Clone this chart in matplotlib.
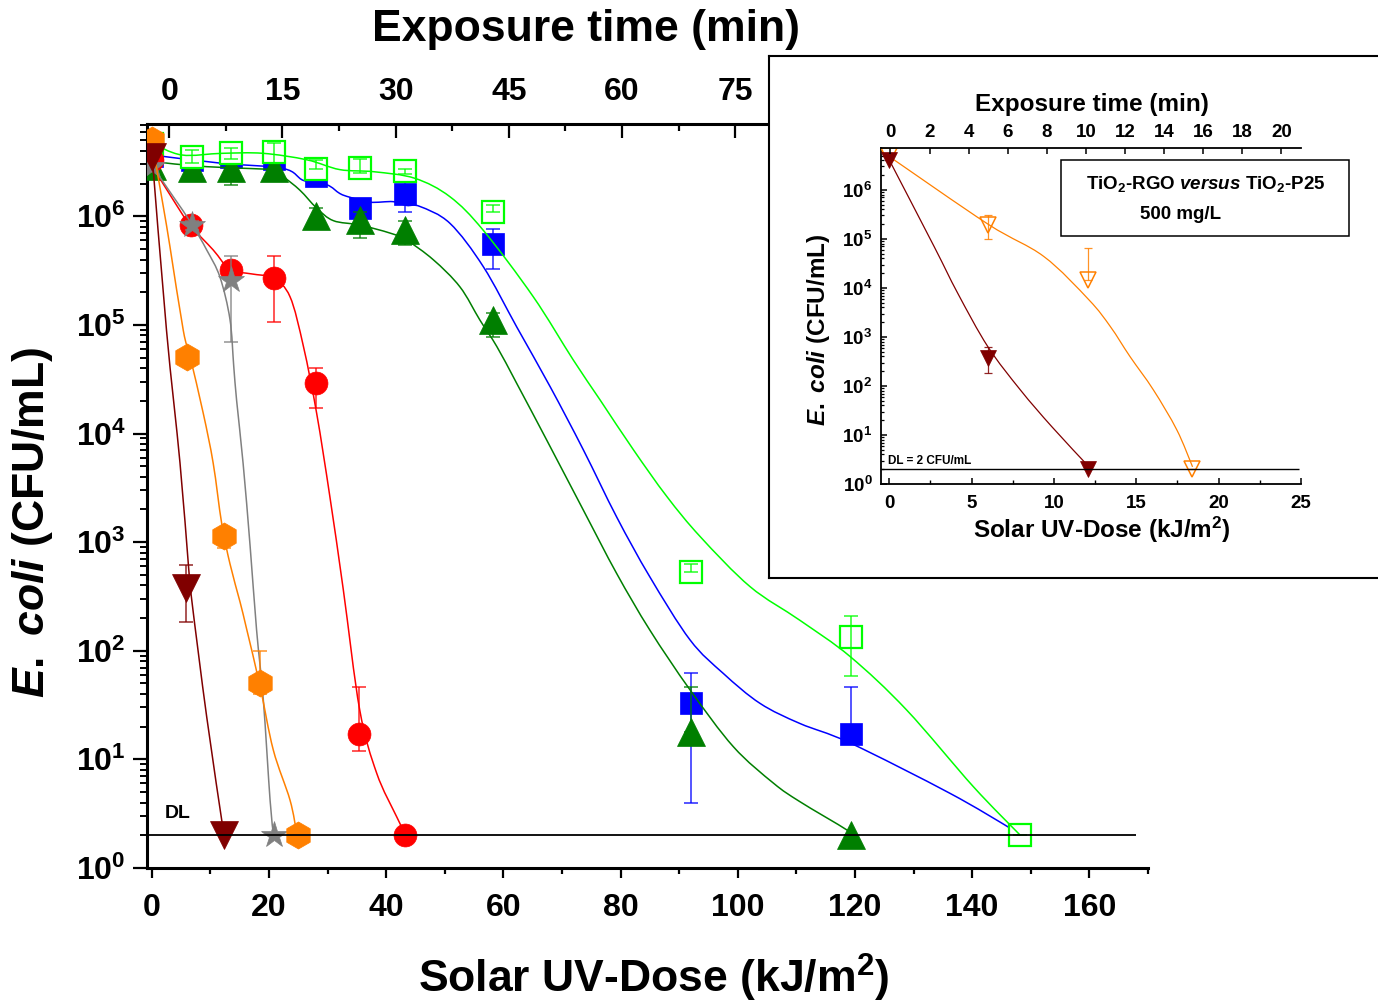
import numpy as np
import matplotlib
matplotlib.use("Agg")
import matplotlib.pyplot as plt
from matplotlib.ticker import MultipleLocator, LogLocator, NullFormatter, FixedLocator
from matplotlib.patches import Rectangle, PathPatch
from matplotlib.path import Path

plt.rcParams.update({
    "font.family": ["Liberation Sans", "DejaVu Sans"],
    "font.weight": "bold",
    "mathtext.fontset": "custom",
    "mathtext.rm": "Liberation Sans:bold",
    "mathtext.bf": "Liberation Sans:bold",
    "mathtext.sf": "Liberation Sans:bold",
    "mathtext.it": "Liberation Sans:italic:bold",
    "axes.linewidth": 2.2,
})

# ---------------- main panel data (dose kJ/m2, CFU/mL) ----------------
DL = 2
dose_maroon = [0, 5.9, 12.3]
cfu_maroon = [3.5e6, 380, 2]
lo_maroon = [3.5e6, 184, 2]
hi_maroon = [3.5e6, 620, 2]
curve_x_maroon = [0, 2.53, 4.83, 6.25, 6.83, 9.39, 12.2]
curve_log_maroon = [6.61, 4.95, 3.73, 2.80, 2.47, 1.39, 0.35]

dose_orange = [0, 6.0, 12.3, 18.5, 25.0]
cfu_orange = [5.0e6, 5.1e4, 1150, 50, 2]
lo_orange = [5.0e6, 5.1e4, 890, 40, 2]
hi_orange = [5.0e6, 5.1e4, 1150, 100, 2]
curve_x_orange = [0, 1.98, 3.12, 5.39, 6.54, 8.8, 10.5, 11.95, 13.36, 15.07, 16.2, 18.5, 20.75, 23.6, 24.75]
curve_log_orange = [6.70, 6.09, 5.72, 4.95, 4.71, 4.186, 3.725, 3.17, 2.80, 2.45, 2.2, 1.67, 1.086, 0.625, 0.319]

dose_gray = [0, 6.8, 13.6, 20.8]
cfu_gray = [2.9e6, 8.3e5, 2.6e5, 2]
lo_gray = [2.9e6, 7.5e5, 7.0e4, 2]
hi_gray = [2.9e6, 9.0e5, 4.3e5, 2]
curve_x_gray = [0, 3.69, 6.83, 9.39, 11.65, 13.36, 14.0, 14.5, 15.6, 16.8, 17.9, 19.05, 20.2, 20.75]
curve_log_gray = [6.47, 6.18, 5.93, 5.69, 5.44, 5.05, 4.62, 4.30, 3.725, 2.96, 2.19, 1.546, 0.625, 0.319]

dose_red = [0, 6.7, 13.6, 20.8, 28.0, 35.4, 43.2]
cfu_red = [3.3e6, 8.3e5, 3.2e5, 2.7e5, 2.9e4, 17, 2]
lo_red = [3.3e6, 7.5e5, 2.8e5, 1.07e5, 1.7e4, 12, 2]
hi_red = [3.3e6, 9.0e5, 3.6e5, 4.3e5, 4.0e4, 46, 2]
curve_x_red = [0, 3.69, 6.54, 10.5, 13.36, 17.0, 20.75, 23.6, 25.9, 28.15, 30.4, 32.7, 35.5, 38.4, 41.8, 43.2]
curve_log_red = [6.47, 6.15, 5.92, 5.69, 5.51, 5.47, 5.43, 5.26, 4.80, 4.186, 3.42, 2.56, 1.454, 0.871, 0.471, 0.319]

dose_dkgreen = [0, 6.8, 13.6, 20.8, 28.0, 35.5, 43.2, 58.3, 92.0, 119.3]
cfu_dkgreen = [2.9e6, 2.8e6, 2.8e6, 2.8e6, 1.0e6, 9.2e5, 7.5e5, 1.1e5, 18, 2]
lo_dkgreen = [2.9e6, 2.1e6, 1.95e6, 2.16e6, 7.6e5, 6.3e5, 5.4e5, 7.8e4, 18, 2]
hi_dkgreen = [2.9e6, 3.3e6, 3.3e6, 3.3e6, 1.2e6, 1.1e6, 9.0e5, 1.3e5, 46, 2]
curve_x_dkgreen = [0, 2.56, 9.39, 16.8, 20.75, 22.45, 25.3, 28.15, 31.0, 35.5, 40.7, 43.5, 48.05, 52.6,
                   56.0, 58.9, 62.3, 67.4, 73.65, 79.35, 85.0, 91.85, 99.25, 106.1, 110.6, 118.6, 119.3]
curve_log_dkgreen = [6.52, 6.49, 6.457, 6.44, 6.425, 6.365, 6.24, 6.076, 5.96, 5.92, 5.845, 5.78, 5.60, 5.35,
                     5.045, 4.80, 4.46, 3.94, 3.295, 2.71, 2.19, 1.64, 1.116, 0.78, 0.61, 0.35, 0.301]

dose_blue = [0, 6.8, 13.6, 20.8, 28.0, 35.5, 43.2, 58.3, 92.0, 119.3, 148.2]
cfu_blue = [3.6e6, 3.3e6, 3.5e6, 3.4e6, 2.35e6, 1.19e6, 1.6e6, 5.6e5, 33, 17.2, 2]
lo_blue = [3.6e6, 3.3e6, 2.66e6, 2.8e6, 2.35e6, 1.19e6, 1.1e6, 3.3e5, 4.0, 17.2, 2]
hi_blue = [3.6e6, 3.3e6, 3.9e6, 3.9e6, 2.35e6, 1.19e6, 2.3e6, 7.6e5, 62, 46, 2]
curve_x_blue = [0, 11.65, 22.45, 25.9, 29.9, 32.1, 33.85, 37.25, 41.2, 43.5, 45.8, 50.9, 56.6, 62.3, 68.0,
                73.65, 79.35, 85.0, 91.85, 97.55, 103.8, 110.6, 119.2, 136.2, 146.5, 148.2]
curve_log_blue = [6.565, 6.49, 6.44, 6.33, 6.29, 6.21, 6.175, 6.13, 6.135, 6.10, 6.09, 5.935, 5.535, 4.98, 4.43,
                  3.85, 3.23, 2.68, 2.10, 1.79, 1.515, 1.33, 1.15, 0.687, 0.365, 0.301]

dose_lime = [0, 6.8, 13.6, 20.8, 28.1, 35.5, 43.2, 58.3, 92.0, 119.3, 148.2]
cfu_lime = [4.6e6, 3.5e6, 3.8e6, 3.9e6, 2.7e6, 2.8e6, 2.6e6, 1.1e6, 525, 134, 2]
lo_lime = [4.6e6, 3.1e6, 3.4e6, 3.1e6, 2.7e6, 2.5e6, 2.45e6, 1.1e6, 525, 58, 2]
hi_lime = [4.6e6, 4.1e6, 4.3e6, 4.7e6, 3.3e6, 3.35e6, 2.75e6, 1.27e6, 635, 208, 2]
curve_x_lime = [0, 5.1, 12.0, 19.0, 26.5, 32.1, 38.0, 44.9, 50.9, 56.6, 65.1, 71.9, 76.5, 82.2, 87.9,
                93.6, 102.1, 110.6, 119.2, 128.8, 140.2, 148.2]
curve_log_lime = [6.675, 6.565, 6.58, 6.58, 6.52, 6.43, 6.41, 6.35, 6.18, 5.87, 5.26, 4.68, 4.31, 3.85, 3.42,
                  3.05, 2.59, 2.28, 1.945, 1.455, 0.748, 0.301]

# ---------------- inset data ----------------
in_dose_rgo = [0, 6.0, 12.1]
in_cfu_rgo = [4.1e6, 380, 2]
in_lo_rgo = [4.1e6, 182, 2]
in_hi_rgo = [4.1e6, 617, 2]
in_curve_x_rgo = [0, 2.73, 4.16, 5.99, 7.96, 9.87, 12.13]
in_curve_log_rgo = [6.61, 4.84, 3.89, 2.80, 1.92, 1.17, 0.35]

in_dose_p25 = [0, 6.0, 12.1, 18.4]
in_cfu_p25 = [4.8e6, 1.93e5, 1.45e4, 2]
in_lo_p25 = [4.8e6, 1.0e5, 1.45e4, 2]
in_hi_p25 = [4.8e6, 3.0e5, 6.5e4, 2]
in_curve_x_p25 = [0, 6.0, 9.39, 12.13, 13.43, 14.62, 16.04, 17.47, 18.42]
in_curve_log_p25 = [6.68, 5.30, 4.64, 3.755, 3.21, 2.60, 1.92, 1.10, 0.35]

top_time_ticks = [0, 15, 30, 45, 60, 75]

MAROON, ORANGE, GRAY, RED = "#800000", "#FF8000", "#808080", "#FF0000"
DKGREEN, BLUE, LIME = "#007F00", "#0000FF", "#00FF00"

W, H = 1378, 1005
fig = plt.figure(figsize=(W / 100, H / 100), dpi=100)


def box(l, t, r, b):
    return [l / W, 1 - b / H, (r - l) / W, (b - t) / H]


def fx(px):
    return px / W


def fy(py):
    return 1 - py / H


def smooth_path(cx, cl):
    """Bezier path through the read-off curve knots (in log space)."""
    P = np.column_stack([np.asarray(cx, float), np.asarray(cl, float)])
    n = len(P)
    verts = [P[0]]
    codes = [Path.MOVETO]
    for i in range(n - 1):
        p0 = P[i - 1] if i > 0 else P[i]
        p1, p2 = P[i], P[i + 1]
        p3 = P[i + 2] if i + 2 < n else P[i + 1]
        verts += [p1 + (p2 - p0) / 6.0, p2 - (p3 - p1) / 6.0, p2]
        codes += [Path.CURVE4] * 3
    V = np.array(verts)
    V[:, 1] = 10 ** V[:, 1]
    return Path(V, codes)


def series(a, x, y, lo, hi, cx, cl, color, marker, ms, z, mfc=None, mew=0.5,
           cap=5, lw=1.1, elw=1.1):
    x = np.asarray(x, float)
    y = np.asarray(y, float)
    yerr = [y - np.asarray(lo, float), np.asarray(hi, float) - y]
    a.plot(x, y, ls="none", marker=marker, ms=ms, mfc=mfc if mfc else color,
           mec=color, mew=mew, zorder=z)
    a.errorbar(x, y, yerr=yerr, fmt="none", ecolor=color, elinewidth=elw,
               capsize=cap, capthick=elw, zorder=z + 0.1, alpha=0.85)
    a.add_patch(PathPatch(smooth_path(cx, cl), fill=False, ec=color, lw=lw, zorder=z + 0.2))


# ---------------- main axes ----------------
ax = fig.add_axes(box(146.7, 124, 1148, 867.9))
ax.set_yscale("log")
ax.set_xlim(-0.85, 170.0)
ax.set_ylim(1, 10 ** 6.85)
ax.spines["right"].set_visible(False)
ax.spines["top"].set_visible(False)
ax.xaxis.set_major_locator(MultipleLocator(20))
ax.xaxis.set_minor_locator(MultipleLocator(10))
ax.yaxis.set_major_locator(LogLocator(base=10, numticks=20))
ax.yaxis.set_minor_locator(LogLocator(base=10, subs=np.arange(2, 10), numticks=20))
ax.yaxis.set_minor_formatter(NullFormatter())
ax.tick_params(axis="x", which="major", direction="out", length=7, width=1.6,
               labelsize=23, pad=11, top=False)
ax.tick_params(axis="x", which="minor", direction="out", length=4.5, width=1.6, top=False)
ax.tick_params(axis="y", which="major", direction="out", length=10, width=1.6,
               labelsize=23, pad=5, right=False)
ax.tick_params(axis="y", which="minor", direction="out", length=5, width=1.4, right=False)

series(ax, dose_blue, cfu_blue, lo_blue, hi_blue, curve_x_blue, curve_log_blue, BLUE, "s", 15.8, 3)
series(ax, dose_dkgreen, cfu_dkgreen, lo_dkgreen, hi_dkgreen, curve_x_dkgreen, curve_log_dkgreen,
       DKGREEN, "^", 20, 4)
series(ax, dose_lime, cfu_lime, lo_lime, hi_lime, curve_x_lime, curve_log_lime, LIME, "s", 15.8, 5,
       mfc="white", mew=1.6)
series(ax, dose_red, cfu_red, lo_red, hi_red, curve_x_red, curve_log_red, RED, "o", 16.5, 6)
series(ax, dose_gray, cfu_gray, lo_gray, hi_gray, curve_x_gray, curve_log_gray, GRAY, "*", 19.5, 7)
series(ax, dose_orange, cfu_orange, lo_orange, hi_orange, curve_x_orange, curve_log_orange,
       ORANGE, "h", 19.5, 8)
series(ax, dose_maroon, cfu_maroon, lo_maroon, hi_maroon, curve_x_maroon, curve_log_maroon,
       MAROON, "v", 20, 9)
ax.hlines(DL, -0.85, 168, color="black", lw=1.3, zorder=12)
ax.text(2.3, 3.2, "DL", fontsize=14, ha="left", va="center", zorder=12)

# top axis: exposure time
ax2 = ax.twiny()
ax2.set_xlim(-2.99, 129.68)
for s in ["bottom", "left", "right"]:
    ax2.spines[s].set_visible(False)
ax2.spines["top"].set_linewidth(2.2)
ax2.xaxis.set_major_locator(FixedLocator(top_time_ticks))
ax2.xaxis.set_minor_locator(FixedLocator([7.5, 22.5, 37.5, 52.5, 67.5, 82.5]))
ax2.tick_params(axis="x", which="major", direction="in", length=10, width=1.6,
                labelsize=23, pad=12.5, top=True, bottom=False)
ax2.tick_params(axis="x", which="minor", direction="in", length=5, width=1.6, top=True, bottom=False)

fig.text(fx(586), fy(30), "Exposure time (min)", fontsize=32, ha="center", va="center")
fig.text(fx(654), fy(978), r"Solar UV-Dose (kJ/m$^{\mathdefault{2}}$)", fontsize=32,
         ha="center", va="center")
fig.text(fx(33), fy(522), r"$\mathit{E.}$ $\mathit{coli}$ (CFU/mL)", fontsize=32, rotation=90,
         ha="center", va="center")

# ---------------- inset frame ----------------
frame = fig.add_axes(box(769, 56, 1395, 578))
frame.set_zorder(1)
frame.set_facecolor("white")
frame.set_xticks([])
frame.set_yticks([])
for s in frame.spines.values():
    s.set_linewidth(1.5)

# ---------------- inset axes ----------------
axi = fig.add_axes(box(880.7, 147.7, 1300.9, 484))
axi.set_zorder(2)
axi.patch.set_visible(False)
axi.set_yscale("log")
axi.set_xlim(-0.52, 25)
axi.set_ylim(1, 10 ** 6.86)
axi.spines["right"].set_visible(False)
axi.spines["top"].set_visible(False)
for s in ["left", "bottom"]:
    axi.spines[s].set_linewidth(1.3)
axi.xaxis.set_major_locator(MultipleLocator(5))
axi.xaxis.set_minor_locator(MultipleLocator(2.5))
axi.yaxis.set_major_locator(LogLocator(base=10, numticks=20))
axi.yaxis.set_minor_locator(LogLocator(base=10, subs=np.arange(2, 10), numticks=20))
axi.yaxis.set_minor_formatter(NullFormatter())
axi.tick_params(axis="x", which="major", direction="in", length=4, width=1.1,
                labelsize=13.5, pad=8, top=False)
axi.tick_params(axis="x", which="minor", direction="in", length=3, width=1.0, top=False)
axi.tick_params(axis="y", which="major", direction="in", length=4, width=1.1,
                labelsize=13.5, pad=6, right=False)
axi.tick_params(axis="y", which="minor", direction="in", length=2, width=0.9, right=False)

series(axi, in_dose_p25, in_cfu_p25, in_lo_p25, in_hi_p25, in_curve_x_p25, in_curve_log_p25,
       ORANGE, "v", 11.5, 3, mfc="white", mew=1.1, cap=3, lw=0.9, elw=0.9)
series(axi, in_dose_rgo, in_cfu_rgo, in_lo_rgo, in_hi_rgo, in_curve_x_rgo, in_curve_log_rgo,
       MAROON, "v", 11.5, 4, cap=3, lw=0.9, elw=0.9)
axi.hlines(DL, -0.52, 24.9, color="black", lw=1.0, zorder=10)
axi.text(-0.1, 2.9, "DL = 2 CFU/mL", fontsize=8.5, ha="left", va="center", zorder=10)

axi2 = axi.twiny()
axi2.set_zorder(2.5)
axi2.set_xlim(-0.5, 21.0)
for s in ["bottom", "left", "right"]:
    axi2.spines[s].set_visible(False)
axi2.spines["top"].set_linewidth(1.3)
axi2.xaxis.set_major_locator(MultipleLocator(2))
axi2.tick_params(axis="x", which="major", direction="in", length=4, width=1.1,
                 labelsize=13.5, pad=5, top=True, bottom=False)

fig.text(fx(1092), fy(104), "Exposure time (min)", fontsize=17.5, ha="center", va="center", zorder=6)
fig.text(fx(1102), fy(530), r"Solar UV-Dose (kJ/m$^{\mathdefault{2}}$)", fontsize=17.5,
         ha="center", va="center", zorder=6)
fig.text(fx(819), fy(330), r"$\mathit{E.}$ $\mathit{coli}$ (CFU/mL)", fontsize=17.5, rotation=90,
         ha="center", va="center", zorder=6)

fig.add_artist(Rectangle((fx(1060.5), fy(236)), (1349 - 1060.5) / W, (236 - 160) / H,
                         transform=fig.transFigure, fill=False, lw=1.1, ec="black", zorder=6))
fig.text(fx(1206), fy(184), r"TiO$_{\mathdefault{2}}$-RGO $\mathit{versus}$ TiO$_{\mathdefault{2}}$-P25",
         fontsize=13.5, ha="center", va="center", zorder=7)
fig.text(fx(1181), fy(214), "500 mg/L", fontsize=13.5, ha="center", va="center", zorder=7)

fig.savefig("out.png", dpi=100)
